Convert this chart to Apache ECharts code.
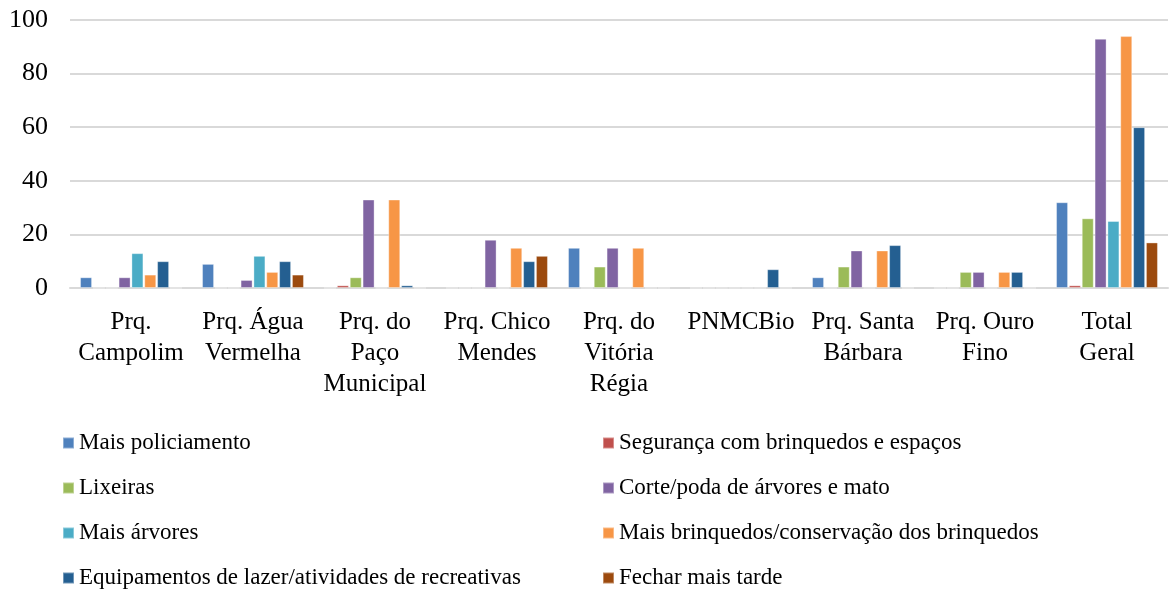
<!DOCTYPE html>
<html>
<head>
<meta charset="utf-8">
<script src="https://cdn.jsdelivr.net/npm/echarts@6/dist/echarts.min.js"></script>
<style>
  html, body { margin: 0; padding: 0; background: #fff; }
  #chart { width: 1170px; height: 591px; }
</style>
</head>
<body>
<div id="chart"></div>
<script>
// categories (parks)
var parques = [
  'Prq.\nCampolim', 'Prq. Água\nVermelha', 'Prq. do\nPaço\nMunicipal', 'Prq. Chico\nMendes',
  'Prq. do\nVitória\nRégia', 'PNMCBio', 'Prq. Santa\nBárbara', 'Prq. Ouro\nFino', 'Total\nGeral'
]

var nomes = [
  'Mais policiamento',
  'Segurança com brinquedos e espaços',
  'Lixeiras',
  'Corte/poda de árvores e mato',
  'Mais árvores',
  'Mais brinquedos/conservação dos brinquedos',
  'Equipamentos de lazer/atividades de recreativas',
  'Fechar mais tarde'
]

var cores = ['#4f81bd', '#c0504d', '#9bbb59', '#8064a2', '#4bacc6', '#f79646', '#245f91', '#9c4a0e']

var policiamento = [4, 9, 0, 0, 15, 0, 4, 0, 32]
var seguranca    = [0, 0, 1, 0, 0, 0, 0, 0, 1]
var lixeiras     = [0, 0, 4, 0, 8, 0, 8, 6, 26]
var cortePoda    = [4, 3, 33, 18, 15, 0, 14, 6, 93]
var arvores      = [13, 12, 0, 0, 0, 0, 0, 0, 25]
var brinquedos   = [5, 6, 33, 15, 15, 0, 14, 6, 94]
var equipamentos = [10, 10, 1, 10, 0, 7, 16, 6, 60]
var fecharTarde  = [0, 5, 0, 12, 0, 0, 0, 0, 17]

var yTicks = [0, 20, 40, 60, 80, 100]

var valores = [policiamento, seguranca, lixeiras, cortePoda, arvores, brinquedos, equipamentos, fecharTarde]

var chart = echarts.init(document.getElementById('chart'))
var fonte = '"Liberation Serif", "DejaVu Serif", serif'

var legendaBase = {
  orient: 'vertical',
  top: 425,
  height: 200,
  itemWidth: 11,
  itemHeight: 11,
  itemGap: 19,
  icon: 'rect',
  textStyle: { fontFamily: fonte, fontSize: 23, color: '#000', lineHeight: 26 }
}

chart.setOption({
  animation: false,
  color: cores,
  grid: { left: 70, right: 2, top: 20, bottom: 303 },
  legend: [
    Object.assign({}, legendaBase, { left: 57, data: [nomes[0], nomes[2], nomes[4], nomes[6]] }),
    Object.assign({}, legendaBase, { left: 597, data: [nomes[1], nomes[3], nomes[5], nomes[7]] })
  ],
  xAxis: {
    type: 'category',
    data: parques,
    axisTick: { show: false },
    axisLine: { lineStyle: { color: '#d9d9d9', width: 2 } },
    axisLabel: {
      interval: 0,
      margin: 19,
      fontFamily: fonte,
      fontSize: 25,
      lineHeight: 31,
      color: '#000'
    }
  },
  yAxis: {
    type: 'value',
    min: yTicks[0],
    max: yTicks[yTicks.length - 1],
    interval: 20,
    axisLine: { show: false },
    axisTick: { show: false },
    splitLine: { lineStyle: { color: '#d9d9d9', width: 2 } },
    axisLabel: { margin: 22, fontFamily: fonte, fontSize: 26, color: '#000' }
  },
  series: valores.map(function (v, i) {
    return {
      name: nomes[i],
      type: 'bar',
      data: v,
      barWidth: 12,
      barGap: '7%',
      itemStyle: { color: cores[i], borderColor: 'rgba(255,255,255,0.35)', borderWidth: 1 }
    }
  })
})
</script>
</body>
</html>
